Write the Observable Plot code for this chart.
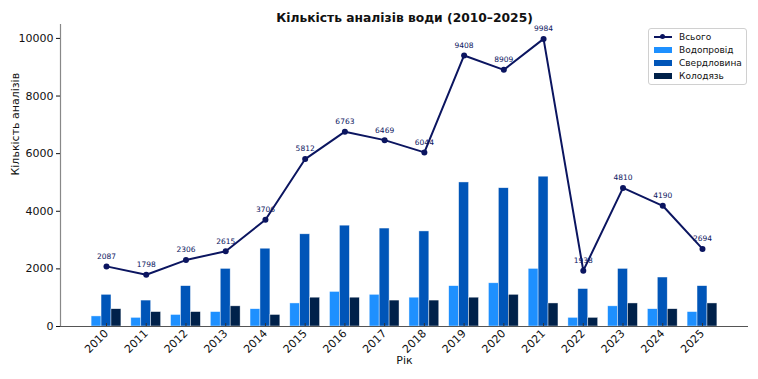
<!DOCTYPE html>
<html>
<head>
<meta charset="utf-8">
<script src="https://cdn.jsdelivr.net/npm/d3@7"></script>
<script src="https://cdn.jsdelivr.net/npm/@observablehq/plot@0.6"></script>
<style>
  body { margin: 0; background: #fff; font-family: "DejaVu Sans", sans-serif; }
  #wrap { position: relative; width: 758px; height: 379px; }
  #legend { position: absolute; left: 648px; top: 28px; width: 99px; height: 57px; box-sizing: border-box;
    border: 1px solid #d0d0d0; border-radius: 3px; background: rgba(255,255,255,0.85); font-size: 9px; color: #111; padding-top: 1px; }
  .row { display: flex; align-items: center; height: 13px; padding-left: 5px; }
  .sw { width: 18px; height: 6px; margin-right: 7px; }
  .ln { width: 20px; height: 8px; margin-right: 5px; position: relative; }
  .ln::before { content: ""; position: absolute; left: 0; right: 2px; top: 3px; height: 2px; background: #0b1560; }
  .ln::after { content: ""; position: absolute; left: 6px; top: 1.5px; width: 5px; height: 5px; border-radius: 50%; background: #0b1560; }
</style>
</head>
<body>
<div id="wrap">
  <div id="chart"></div>
  <div id="legend"></div>
</div>
<script>
const years = [2010, 2011, 2012, 2013, 2014, 2015, 2016, 2017, 2018, 2019, 2020, 2021, 2022, 2023, 2024, 2025];
const totals = [2087, 1798, 2306, 2615, 3706, 5812, 6763, 6469, 6044, 9408, 8909, 9984, 1938, 4810, 4190, 2694];
const vodoprovid = [350, 300, 400, 500, 600, 800, 1200, 1100, 1000, 1400, 1500, 2000, 300, 700, 600, 500];
const sverdlovyna = [1100, 900, 1400, 2000, 2700, 3200, 3500, 3400, 3300, 5000, 4800, 5200, 1300, 2000, 1700, 1400];
const kolodiaz = [600, 500, 500, 700, 400, 1000, 1000, 900, 900, 1000, 1100, 800, 300, 800, 600, 800];
const seriesNames = ["Водопровід", "Свердловина", "Колодязь"];
const seriesColors = ["#1e90ff", "#0055b8", "#00214a"];
const yTicks = [0, 2000, 4000, 6000, 8000, 10000];
const lineColor = "#0b1560";

const seriesValues = [vodoprovid, sverdlovyna, kolodiaz];
const barWidth = 0.25;
const bars = [];
seriesValues.forEach((vals, si) => {
  vals.forEach((v, i) => bars.push({year: years[i], series: seriesNames[si], idx: si, value: v}));
});
const totalData = years.map((y, i) => ({year: y, total: totals[i]}));

const xMin = years[0] - 1.158, xMax = years[years.length - 1] + 1.158;
const yMax = d3.max(totals) * 1.05;

const chart = Plot.plot({
  width: 758,
  height: 379,
  marginLeft: 60,
  marginRight: 10,
  marginTop: 24,
  marginBottom: 53,
  style: {fontFamily: "DejaVu Sans, sans-serif", fontSize: "11px", color: "#111"},
  x: {type: "linear", domain: [xMin, xMax]},
  y: {domain: [0, yMax]},
  color: {domain: seriesNames, range: seriesColors},
  marks: [
    Plot.rectY(bars, {
      x1: d => d.year + (d.idx - 1) * barWidth - barWidth / 2,
      x2: d => d.year + (d.idx - 1) * barWidth + barWidth / 2,
      y1: 0, y2: "value", fill: "series",
      stroke: "white", strokeWidth: 0.6, strokeOpacity: 0.7
    }),
    Plot.ruleX([xMin], {stroke: "#888", strokeWidth: 1.2}),
    Plot.ruleY([0], {stroke: "#555", strokeWidth: 1.2}),
    Plot.axisY({ticks: yTicks, tickSize: 4, tickPadding: 3, label: null, tickFormat: d => String(d), fontSize: 11}),
    Plot.axisX({ticks: years, tickFormat: d => String(d), tickRotate: -45, tickSize: -3, tickPadding: 8, label: null, fontSize: 11, stroke: "#333"}),
    Plot.line(totalData, {x: "year", y: "total", stroke: lineColor, strokeWidth: 2}),
    Plot.dot(totalData, {x: "year", y: "total", fill: lineColor, r: 3}),
    Plot.text(totalData, {x: "year", y: "total", text: d => String(d.total), dy: -10, fill: lineColor, fontSize: 7.5}),
    Plot.text(["Кількість аналізів води (2010–2025)"], {frameAnchor: "top", dy: -11, fontSize: 12.3, fontWeight: "bold", fill: "#111"}),
    Plot.text(["Рік"], {frameAnchor: "bottom", dy: 37, fontSize: 11, fill: "#111"}),
    Plot.text(["Кількість аналізів"], {frameAnchor: "left", dx: -45, rotate: -90, fontSize: 11, fill: "#111"})
  ]
});
document.getElementById("chart").appendChild(chart);

const legend = document.getElementById("legend");
const row0 = document.createElement("div");
row0.className = "row";
row0.innerHTML = '<span class="ln"></span><span>Всього</span>';
legend.appendChild(row0);
seriesNames.forEach((n, i) => {
  const r = document.createElement("div");
  r.className = "row";
  r.innerHTML = `<span class="sw" style="background:${seriesColors[i]}"></span><span>${n}</span>`;
  legend.appendChild(r);
});
</script>
</body>
</html>
